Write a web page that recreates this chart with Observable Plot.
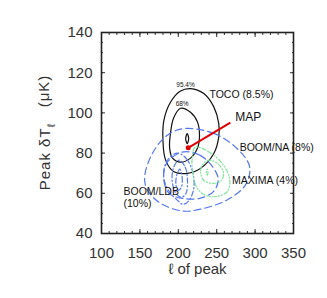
<!DOCTYPE html>
<html><head><meta charset="utf-8">
<script src="https://cdn.jsdelivr.net/npm/d3@7"></script>
<script src="https://cdn.jsdelivr.net/npm/@observablehq/plot@0.6"></script>
<style>body{margin:0;background:#fff} svg{display:block}</style>
</head><body><div id="chart"></div>
<script>
// contour outlines: [ell, deltaT]
const tocoOuter = [[215.9,112.1],[233.2,109.6],[246.2,103.0],[252.7,94.7],[252.7,88.1],[246.2,79.8],[228.9,72.4],[211.6,69.9],[194.3,70.7],[183.5,76.5],[180.0,86.4],[181.3,96.4],[190.0,105.4],[202.9,110.9]];
const tocoInner = [[202.9,102.3],[215.9,100.3],[225.0,95.4],[227.6,88.9],[225.0,82.5],[215.9,77.5],[202.9,75.5],[192.5,77.5],[188.7,82.5],[190.0,90.4],[193.8,97.3]];
const tocoCore = [[211.6,89.7],[213.5,87.2],[211.6,84.7],[209.6,87.2]];
const boomNAOuter = [[207.2,92.2],[246.2,89.8],[276.5,82.3],[292.9,73.2],[287.3,64.1],[263.5,56.7],[228.9,52.1],[205.1,51.2],[177.0,55.0],[159.7,61.6],[156.2,68.2],[166.2,79.8],[185.7,88.9]];
const boomNAInner = [[205,80.5],[228,79],[245,73],[252,67],[246,61],[228,57.5],[205,57.5],[188,60],[181,67],[185,75]];
const boomLDBOuter = [[199,80],[211,77],[219,70],[220,62],[213,56],[206,54.5],[199,56.5],[188,61],[181,68],[185,76]];
const boomLDBInner = [[201,76.5],[209,73],[212,66],[210,60],[204,58],[197,60],[192,66],[194,73]];
const boomLDBCore = [[202,72],[205,68],[204,63],[200,61.5],[197,64],[198,69]];
const maximaOuter = [[222,83],[240,80.5],[257,75],[267,67],[264,61],[251,58.5],[235,59],[224,63],[219,70],[218,77]];
const maximaInner = [[239.7,76.5],[252,74.5],[259,70],[255,66],[244,65],[233,66.5],[229,70.7],[232,74.5]];
const maximaCore = [[237.6,72.0],[238.6,70.5],[237.6,69.0],[236.6,70.5]];

const mapPoint = [212.9, 82.6];
const mapArrowEnd = [267.8, 95.2];

const labelText = ["TOCO (8.5%)", "BOOM/NA (8%)", "MAXIMA (4%)", "BOOM/LDB", "(10%)"];
const labelL = [240.6, 279.9, 270.0, 128.6, 128.6];
const labelT = [109.1, 82.6, 66.4, 60.8, 55.0];
const levelText = ["95.4%", "68%"];
const levelL = [209.4, 205.0];
const levelT = [114.0, 104.3];
const mapText = ["MAP"];
const mapTextL = [274.3];
const mapTextT = [97.7];

const xTicks = [100, 150, 200, 250, 300, 350];
const yTicks = [40, 60, 80, 100, 120, 140];
const xTitle = "ℓ of peak";
const yTitleMain = "Peak δT";
const yTitleSub = "ℓ";
const yTitleUnit = "(μK)";

const BLACK = "#111", BLUE = "#5577ee", GREEN = "#7fe59a";
const groups = [
  {pts: [tocoOuter, tocoInner, tocoCore], stroke: BLACK, dash: null},
  {pts: [boomNAOuter, boomNAInner], stroke: BLUE, dash: "7,4"},
  {pts: [boomLDBOuter, boomLDBInner, boomLDBCore], stroke: BLUE, dash: "5,2.5,1.2,2.5"},
  {pts: [maximaOuter, maximaInner, maximaCore], stroke: GREEN, dash: "4,2,1,2,1,2"}
];
const contourMarks = groups.map(g => {
  const rows = g.pts.flatMap((p, i) => p.map(([l, t]) => ({id: i, l, t})));
  return Plot.line(rows, {x: "l", y: "t", z: "id", curve: "catmull-rom-closed",
    stroke: g.stroke, strokeWidth: 1.2, strokeDasharray: g.dash});
});

const labels = labelText.map((t, i) => ({t, l: labelL[i], v: labelT[i]}));
const levels = levelText.map((t, i) => ({t, l: levelL[i], v: levelT[i]}));
const maps = mapText.map((t, i) => ({t, l: mapTextL[i], v: mapTextT[i]}));

const W = 327, H = 298, ML = 101, MR = 34, MT = 32, MB = 65;
const svg = Plot.plot({
  width: W, height: H,
  marginLeft: ML, marginRight: MR, marginTop: MT, marginBottom: MB,
  style: {fontFamily: "'Liberation Sans', Arial, sans-serif", color: "#333", background: "#fff"},
  x: {domain: [100, 350]},
  y: {domain: [40, 140]},
  marks: [
    ...contourMarks,
    Plot.link([{x1: mapPoint[0], y1: mapPoint[1], x2: mapArrowEnd[0], y2: mapArrowEnd[1]}],
      {x1: "x1", y1: "y1", x2: "x2", y2: "y2", stroke: "#e00000", strokeWidth: 2}),
    Plot.dot([mapPoint], {x: d => d[0], y: d => d[1], r: 2.5, fill: "#e00000", stroke: "none"}),
    Plot.text(labels, {x: "l", y: "v", text: "t", textAnchor: "start", fontSize: 10.5, fill: "#111"}),
    Plot.text(levels, {x: "l", y: "v", text: "t", fontSize: 6.5, fill: "#111"}),
    Plot.text(maps, {x: "l", y: "v", text: "t", textAnchor: "start", fontSize: 12, fill: "#111"}),
    // tick labels
    Plot.axisX({ticks: xTicks, tickSize: 0, tickPadding: 14, fontSize: 15, label: null}),
    Plot.axisY({ticks: yTicks, tickSize: 0, tickPadding: 9, fontSize: 15, label: null}),
    // inward tick marks on all four sides
    Plot.axisX({anchor: "bottom", interval: 10, tickSize: -2, tickFormat: () => "", label: null}),
    Plot.axisX({anchor: "bottom", ticks: xTicks, tickSize: -4, tickFormat: () => "", label: null}),
    Plot.axisX({anchor: "top", interval: 10, tickSize: -2, tickFormat: () => "", label: null}),
    Plot.axisX({anchor: "top", ticks: xTicks, tickSize: -4, tickFormat: () => "", label: null}),
    Plot.axisY({anchor: "left", interval: 5, tickSize: -2, tickFormat: () => "", label: null}),
    Plot.axisY({anchor: "left", ticks: yTicks, tickSize: -4, tickFormat: () => "", label: null}),
    Plot.axisY({anchor: "right", interval: 5, tickSize: -2, tickFormat: () => "", label: null}),
    Plot.axisY({anchor: "right", ticks: yTicks, tickSize: -4, tickFormat: () => "", label: null}),
    Plot.frame({stroke: "#222", strokeWidth: 1.6}),
    Plot.text([xTitle], {frameAnchor: "bottom", textAnchor: "middle", dy: 40, text: d => d, fontSize: 15, fill: "#333", ariaLabel: "xtitle"})
  ]
});
d3.select(svg).select('g[aria-label="xtitle"] text').style("letter-spacing", "1px");
// y-axis title with subscript
const cy = (MT + H - MB) / 2;
const yt = d3.select(svg).append("text")
  .attr("transform", `translate(${ML - 56},${cy}) rotate(-90)`)
  .attr("text-anchor", "middle").attr("dy", "0.35em")
  .attr("font-size", 15).attr("fill", "#333")
  .style("letter-spacing", "1px");
yt.append("tspan").text(yTitleMain);
yt.append("tspan").attr("dy", "0.4em").attr("font-size", 11).text(yTitleSub);
yt.append("tspan").attr("dy", "-0.4em").text("\u00a0\u00a0\u00a0" + yTitleUnit);
document.getElementById("chart").appendChild(svg);
</script>
</body></html>
